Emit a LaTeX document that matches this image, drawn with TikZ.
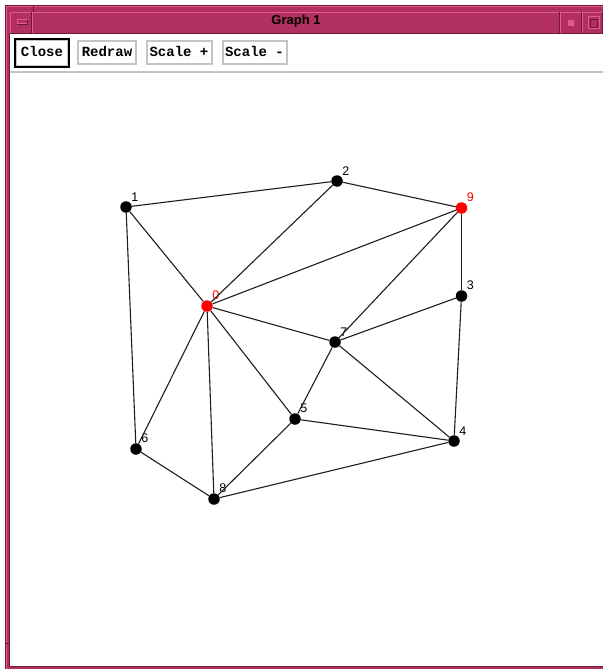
\documentclass[tikz,border=0pt]{standalone}
\usepackage{fontspec}
\setmainfont{Liberation Sans}
\newfontfamily\btnfont{Liberation Mono}
\definecolor{framepink}{RGB}{178,48,96}
\definecolor{framelight}{RGB}{232,86,146}
\definecolor{framedark}{RGB}{110,24,56}
\definecolor{edgegray}{RGB}{30,30,30}
\definecolor{btnborder}{RGB}{196,196,196}
\definecolor{nodered}{RGB}{255,0,0}
\tikzset{
  vtx/.style={circle,fill=black,minimum size=11.5pt,inner sep=0pt},
  redvtx/.style={vtx,fill=nodered},
  lbl/.style={font=\fontsize{12.5}{12.5}\selectfont,inner sep=0pt,anchor=south west,xshift=1pt,yshift=1.5pt},
  redlbl/.style={lbl,text=nodered},
  edge/.style={draw=edgegray,line width=1.1pt},
  btn/.style={draw=btnborder,line width=2pt,fill=white,inner sep=0pt,
    font=\btnfont\bfseries\fontsize{14}{14}\selectfont,text height=9pt,text depth=2pt},
}
\begin{document}
\begin{tikzpicture}[x=1pt,y=-1pt]
\useasboundingbox (0,0) rectangle (603,669);
% window frame
\fill[framepink] (5,5) rectangle (603,669);
\draw[framedark,line width=1pt] (5.5,669) -- (5.5,5.5) -- (603,5.5);
\draw[framelight,line width=1pt] (6.5,669) -- (6.5,6.5) -- (603,6.5);
\draw[framedark,line width=1pt] (33,5) -- (33,12);
\draw[framedark,line width=1pt] (5,643) -- (10,643);
\fill[white] (10,34) rectangle (603,666);
\draw[framedark,line width=1pt] (10,666.5) -- (603,666.5);
\draw[framedark,line width=1pt] (9.5,666) -- (9.5,34);
% title bar boxes
\foreach \a/\b in {10/32,32/560,560/582,582/603}{
  \fill[framepink] (\a,12) rectangle (\b,33);
  \draw[framelight,line width=1pt] (\a+0.5,33) -- (\a+0.5,12.5) -- (\b,12.5);
  \draw[framedark,line width=1pt] (\a,33.5) -- (\b-0.5,33.5) -- (\b-0.5,12);
}
\draw[framelight,line width=1pt,fill=framepink] (17,20) rectangle (27,24);
\draw[framedark,line width=0.8pt] (27,20) -- (27,24) -- (17,24);
\fill[framelight] (568,20) rectangle (574,26);
\draw[framelight,line width=1pt] (588,17) rectangle (599,29);
\draw[framedark,line width=0.8pt] (590,19) rectangle (597,27);
\node[font=\bfseries\fontsize{13}{13}\selectfont] (title) at (296,21) {Graph 1};
% toolbar
\node[btn,minimum width=52pt,minimum height=26pt] (close) at (42,53) {Close};
\draw[black,line width=2.4pt] (close.north west) rectangle (close.south east);
\node[btn,minimum width=58pt,minimum height=23pt] (redraw) at (107,53) {Redraw};
\node[btn,minimum width=65pt,minimum height=23pt] (scaleplus) at (179,53) {Scale +};
\node[btn,minimum width=64pt,minimum height=23pt] (scaleminus) at (254.5,53) {Scale -};
\fill[btnborder] (10,71) rectangle (603,73);
% graph nodes
\node[redvtx,label={[redlbl]north east:0}] (n0) at (207,306) {};
\node[vtx,label={[lbl]north east:1}] (n1) at (126,207) {};
\node[vtx,label={[lbl]north east:2}] (n2) at (337,181) {};
\node[vtx,label={[lbl]north east:3}] (n3) at (461.5,296) {};
\node[vtx,label={[lbl]north east:4}] (n4) at (454,441) {};
\node[vtx,label={[lbl]north east:5}] (n5) at (295,419) {};
\node[vtx,label={[lbl]north east:6}] (n6) at (136,449) {};
\node[vtx,label={[lbl]north east:7}] (n7) at (335,342) {};
\node[vtx,label={[lbl]north east:8}] (n8) at (214,499) {};
\node[redvtx,label={[redlbl]north east:9}] (n9) at (461.5,208) {};
% edges
\foreach \u/\v in {1/2,2/9,1/0,2/0,0/9,9/3,9/7,3/7,0/7,1/6,0/6,0/8,0/5,7/5,7/4,3/4,5/4,5/8,6/8,8/4}{
  \path[edge] (n\u) -- (n\v);
}
\end{tikzpicture}
\end{document}
